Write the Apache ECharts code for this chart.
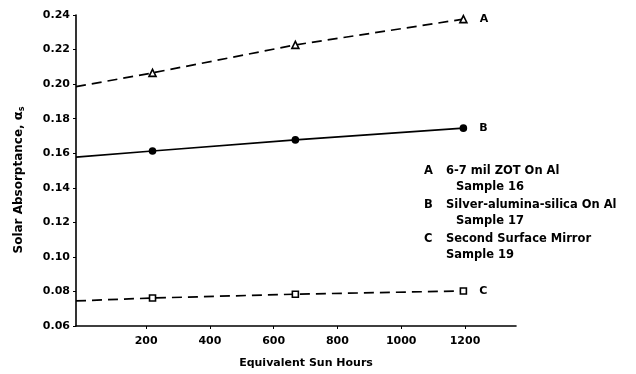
<!DOCTYPE html>
<html>
<head>
<meta charset="utf-8">
<script src="https://cdn.jsdelivr.net/npm/echarts@6/dist/echarts.min.js"></script>
<style>
  html, body { margin: 0; padding: 0; background: #ffffff; }
  #chart { width: 636px; height: 374px; }
</style>
</head>
<body>
<div id="chart"></div>
<script>
// Hours axis spans a little left of zero; the fitted lines start at the axis edge
const hoursAxis = [-20, 1360];
const hours = [-20, 220, 668, 1195];
// Solar absorptance per sample (first value = fitted line at the axis edge)
const sampleA = [0.1985, 0.2065, 0.2227, 0.2376];
const sampleB = [0.1577, 0.1613, 0.1677, 0.1745];
const sampleC = [0.0745, 0.0762, 0.0784, 0.0803];
const curveLetters = ['A', 'B', 'C'];
const xTickValues = [200, 400, 600, 800, 1000, 1200];
const legendRows = [
  ['A', '6-7 mil ZOT On Al', 'Sample 16', true],
  ['B', 'Silver-alumina-silica On Al', 'Sample 17', true],
  ['C', 'Second Surface Mirror', 'Sample 19', false]
];

const FONT = '"DejaVu Sans", "Liberation Sans", Arial, sans-serif';
const chart = echarts.init(document.getElementById('chart'), null, { renderer: 'canvas' });

function buildSeries(name, values, symbol, symbolSize, fill, dashed, letter) {
  return {
    name: name,
    type: 'line',
    data: hours.map((h, i) => {
      const item = { value: [h, values[i]] };
      if (i === 0) item.symbol = 'none';
      if (i === hours.length - 1) {
        item.label = {
          show: true, position: 'right', distance: 12,
          formatter: letter, color: '#000', fontFamily: FONT,
          fontWeight: 'bold', fontSize: 11
        };
      }
      return item;
    }),
    symbol: symbol,
    symbolSize: symbolSize,
    showSymbol: true,
    itemStyle: { color: fill, borderColor: '#000', borderWidth: 1.6 },
    lineStyle: { color: '#000', width: 1.7, type: dashed ? [10, 6] : 'solid' },
    emphasis: { disabled: true },
    animation: false,
    z: 3
  };
}

const graphics = [];
legendRows.forEach((row, i) => {
  const top = 165 + i * 34;
  const font = 'bold 11.5px ' + FONT;
  graphics.push({ type: 'text', left: 424, top: top, style: { text: row[0], font: font, fill: '#000' } });
  graphics.push({ type: 'text', left: 446, top: top, style: { text: row[1], font: font, fill: '#000' } });
  graphics.push({ type: 'text', left: row[3] ? 456 : 446, top: top + 16, style: { text: row[2], font: font, fill: '#000' } });
});

// Vertical axis title with a subscripted alpha
graphics.push({
  type: 'text', x: 19, y: 180, rotation: Math.PI / 2,
  style: {
    text: 'Solar Absorptance, {a|α}{s|s}',
    font: 'bold 12px ' + FONT, fill: '#000', align: 'center', verticalAlign: 'middle',
    rich: {
      a: { fontFamily: FONT, fontWeight: 'bold', fontSize: 13, fill: '#000' },
      s: { fontFamily: FONT, fontWeight: 'bold', fontSize: 8, fill: '#000', verticalAlign: 'bottom', padding: [5, 0, 0, 0] }
    }
  }
});

chart.setOption({
  backgroundColor: '#ffffff',
  animation: false,
  grid: { left: 76, top: 15, width: 440, height: 311, containLabel: false },
  xAxis: {
    type: 'value', min: hoursAxis[0], max: hoursAxis[1],
    name: 'Equivalent Sun Hours', nameLocation: 'middle', nameGap: 32,
    nameTextStyle: { fontFamily: FONT, fontWeight: 'bold', fontSize: 11, color: '#000', padding: [0, 0, 0, 20] },
    axisLine: { show: true, onZero: false, lineStyle: { color: '#000', width: 1.6 } },
    axisTick: { show: true, length: 3, customValues: xTickValues, lineStyle: { color: '#000' } },
    axisLabel: { customValues: xTickValues, fontFamily: FONT, fontWeight: 'bold', fontSize: 11, color: '#000', margin: 10,
      formatter: v => String(v) },
    splitLine: { show: false }
  },
  yAxis: {
    type: 'value', min: 0.06, max: 0.24, interval: 0.02,
    axisLine: { show: true, onZero: false, lineStyle: { color: '#000', width: 1.6 } },
    axisTick: { show: true, length: 3, lineStyle: { color: '#000' } },
    axisLabel: { fontFamily: FONT, fontWeight: 'bold', fontSize: 11, color: '#000', margin: 6,
      formatter: v => v.toFixed(2) },
    splitLine: { show: false }
  },
  series: [
    buildSeries('A', sampleA, 'triangle', 7, '#fff', true, curveLetters[0]),
    buildSeries('B', sampleB, 'circle', 6, '#000', false, curveLetters[1]),
    buildSeries('C', sampleC, 'rect', 6, '#fff', true, curveLetters[2])
  ],
  graphic: graphics
});
</script>
</body>
</html>
